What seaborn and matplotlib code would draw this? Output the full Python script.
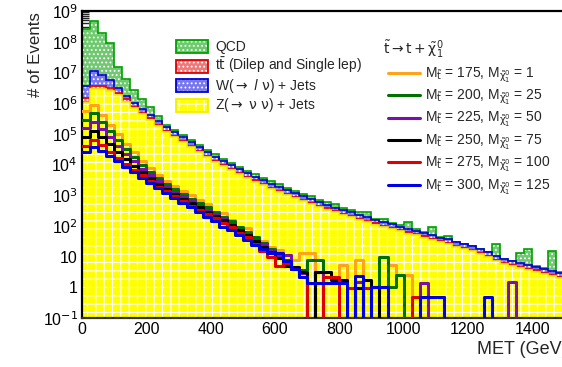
import numpy as np
import pandas as pd
import matplotlib
matplotlib.use("Agg")
import matplotlib.pyplot as plt
from matplotlib.patches import Rectangle
from matplotlib.lines import Line2D
from matplotlib.ticker import MultipleLocator, FixedLocator, FixedFormatter, LogLocator, NullFormatter
import seaborn as sns

# ---------------- data ----------------
bin_edges = np.arange(0, 1525, 25)          # MET bins (GeV), 60 bins
bin_centers = bin_edges[:-1] + 12.5

z_jets = [1.0e6, 2.82e6, 2.82e6, 2.45e6, 1.82e6, 1.12e6, 6.76e5, 4.37e5, 2.88e5, 1.82e5,
          1.15e5, 7.76e4, 5.25e4, 3.63e4, 2.51e4, 1.74e4, 1.23e4, 8.71e3, 6.46e3, 4.79e3,
          3.63e3, 2.75e3, 2.09e3, 1.62e3, 1.26e3, 1.0e3, 794, 631, 513, 417,
          339, 275, 229, 191, 158, 132, 110, 91, 78, 66,
          56, 49, 41.7, 34.7, 28.8, 25.1, 20.9, 17.4, 14.8, 12.3,
          9.8, 7.2, 5.75, 4.9, 4.17, 3.63, 3.24, 2.75, 2.34, 2.04]
ttbar = [4.8e5, 8.1e5, 8.1e5, 5.7e5, 3.7e5, 2.0e5, 8.3e4, 4.2e4, 2.77e4, 1.75e4,
         1.10e4, 7.45e3, 5.04e3, 3.48e3, 2.41e3, 1.67e3, 1.18e3, 836, 620, 460,
         348, 264, 200, 156, 121, 96, 76, 61, 49, 40,
         33, 26, 22, 18, 15, 13, 10.5, 8.7, 7.5, 6.3,
         5.4, 4.7, 4.0, 3.3, 2.8, 2.4, 2.0, 1.7, 1.4, 1.2,
         0.94, 0.7, 0.55, 0.47, 0.4, 0.35, 0.31, 0.26, 0.22, 0.2]
w_jets = [2.07e6, 7.6e6, 4.69e6, 2.6e6, 8.3e5, 3.8e5, 2.41e5, 1.52e5, 1.0e5, 6.34e4,
          4.0e4, 2.7e4, 1.83e4, 1.27e4, 8.75e3, 6.05e3, 4.29e3, 3.04e3, 2.25e3, 1.67e3,
          1.27e3, 959, 728, 564, 439, 349, 277, 220, 179, 145,
          118, 96, 80, 66, 55, 46, 38, 32, 27, 23,
          19.6, 17.1, 14.5, 12.1, 10.0, 8.7, 7.3, 6.0, 5.2, 4.3,
          3.4, 2.5, 2.0, 1.7, 1.45, 1.27, 1.13, 0.96, 0.82, 0.71]
qcd = [2.47e8, 4.68e8, 1.78e8, 8.35e7, 1.18e7, 4.33e6, 1.69e6, 6.9e5, 3.07e5, 1.17e5,
       3.3e4, 2.2e4, 1.5e4, 1.05e4, 7.3e3, 5.0e3, 3.6e3, 2.5e3, 1.9e3, 1.4e3,
       1.05e3, 800, 600, 470, 500, 290, 230, 180, 220, 120,
       98, 130, 66, 55, 46, 97, 15, 34, 10, 8,
       57, 6, 5, 41, 3, 10, 0.8, 0.6, 0.5, 0.4,
       0.3, 15, 0.2, 0.2, 7.5, 12.5, 0.2, 0.2, 12, 0.1]

sig_175_1 = [5.62e5, 8.9e5, 4.2e5, 2.0e5, 9.5e4, 4.8e4, 2.5e4, 1.32e4, 7.6e3, 4.6e3,
             2.95e3, 2.0e3, 1.41e3, 1.0e3, 724, 525, 282, 263, 158, 85,
             85, 35, 32, 20, 16, 11.2, 7.8, 13.2, 13.2, 0,
             0, 0, 5.4, 0, 7.8, 0, 0, 0, 5.4, 2.5,
             2.5, 0, 0, 0, 0, 0, 0, 0, 0, 0,
             0, 0, 0, 0, 0, 0, 0, 0, 0, 0]
sig_200_25 = [2.8e5, 4.8e5, 2.5e5, 1.26e5, 6.3e4, 3.3e4, 1.78e4, 1.0e4, 5.9e3, 3.55e3,
              2.3e3, 1.55e3, 1.07e3, 759, 550, 398, 282, 200, 141, 95,
              63, 42, 28, 17.8, 11.2, 7.9, 4.0, 3.6, 7.8, 7.8,
              0, 0, 0, 0, 0, 0, 0, 10, 1.0, 2.5,
              0, 0, 0, 0, 0, 0, 0, 0, 0, 0,
              0, 0, 0, 0, 0, 0, 0, 0, 0, 0]
sig_225_50 = [1.58e5, 2.45e5, 1.41e5, 7.6e4, 4.0e4, 2.24e4, 1.26e4, 7.4e3, 4.5e3, 2.8e3,
              1.86e3, 1.26e3, 891, 631, 457, 331, 240, 166, 112, 76,
              50, 35, 25, 15.8, 10, 11.2, 4.0, 3.0, 0, 3.2,
              0, 0, 0, 0, 1.5, 0, 0, 0, 0, 0,
              0, 0, 1.4, 0, 0, 0, 0, 0, 0, 0,
              0, 0, 0, 1.45, 0, 0, 0, 0, 0, 0]
sig_250_75 = [7.9e4, 1.26e5, 7.9e4, 4.5e4, 2.5e4, 1.51e4, 9.1e3, 5.6e3, 3.55e3, 2.3e3,
              1.55e3, 1.07e3, 759, 537, 398, 288, 209, 151, 105, 71,
              52, 32, 20, 14.1, 8.9, 5.0, 4.7, 3.2, 0, 3.2,
              3.2, 1.7, 1.7, 0, 0.95, 1.7, 1.0, 0, 0, 0,
              0, 0, 0, 0, 0, 0, 0, 0, 0, 0,
              0, 0, 0, 0, 0, 0, 0, 0, 0, 0]
sig_275_100 = [4.0e4, 6.3e4, 4.2e4, 2.63e4, 1.66e4, 1.05e4, 6.8e3, 4.4e3, 2.9e3, 1.9e3,
               1.32e3, 912, 646, 457, 331, 240, 178, 126, 89, 60,
               42, 25, 15.8, 10, 5.0, 6.2, 4.0, 2.2, 0, 0,
               2.2, 2.2, 0, 0.95, 0, 0.95, 0, 0, 0, 0,
               0, 0.49, 0.49, 0.49, 0.49, 0, 0, 0, 0, 0,
               0, 0, 0, 0, 0, 0, 0, 0, 0, 0]
sig_300_125 = [2.5e4, 3.8e4, 2.8e4, 1.9e4, 1.26e4, 8.3e3, 5.6e3, 3.7e3, 2.5e3, 1.66e3,
               1.15e3, 794, 562, 398, 282, 200, 141, 95, 71, 50,
               35, 24, 17.8, 13.2, 13.2, 7.1, 4.0, 2.2, 1.4, 1.4,
               1.4, 1.4, 1.4, 0, 2.3, 0, 1.0, 1.0, 0, 0,
               0, 0, 0.49, 0.49, 0.49, 0, 0, 0, 0, 0,
               0.49, 0, 0, 0, 0, 0, 0, 0, 0, 0]

bkg_labels = ["QCD", r"t$\bar{t}$ (Dilep and Single lep)",
              r"W($\rightarrow$ $\mathit{l}$ $\nu$) + Jets", r"Z($\rightarrow$ $\nu$ $\nu$) + Jets"]
stop_masses = [175, 200, 225, 250, 275, 300]
lsp_masses = [1, 25, 50, 75, 100, 125]
legend_title = r"$\tilde{t}\rightarrow t + \tilde{\chi}_{1}^{0}$"
y_tick_values = [1e-1, 1, 10, 1e2, 1e3, 1e4, 1e5, 1e6, 1e7, 1e8, 1e9]
y_tick_labels = ["10$^{-1}$", "1", "10", "10$^{2}$", "10$^{3}$", "10$^{4}$",
                 "10$^{5}$", "10$^{6}$", "10$^{7}$", "10$^{8}$", "10$^{9}$"]
x_label = "MET (GeV)"
y_label = "# of Events"

# ---------------- style ----------------
sns.set_theme(style="ticks")
plt.rcParams["font.family"] = ["Liberation Sans", "DejaVu Sans"]
plt.rcParams["mathtext.fontset"] = "custom"
plt.rcParams["mathtext.rm"] = "DejaVu Sans"
plt.rcParams["mathtext.it"] = "DejaVu Sans:italic"
plt.rcParams["mathtext.sf"] = "DejaVu Sans"
plt.rcParams["mathtext.default"] = "rm"
plt.rcParams["hatch.linewidth"] = 0.8

W, H = 562, 367
fig = plt.figure(figsize=(W / 100, H / 100), dpi=100)
fig.patch.set_facecolor("white")

def fx(p):
    return p / W

def fy(p):
    return 1 - p / H

ax_left, ax_right, ax_top, ax_bot = 82, 564.4, 11, 318
ax = fig.add_axes([fx(ax_left), fy(ax_bot), fx(ax_right - ax_left), (ax_bot - ax_top) / H])
ax.set_facecolor("white")

# stack (bottom -> top): Z, ttbar, W, QCD
comp = [np.array(z_jets), np.array(ttbar), np.array(w_jets), np.array(qcd)]
cum = np.cumsum(np.vstack(comp), axis=0)
styles = [  # base, hatch, edge
    ("#ffff00", "++", "#f0f000"),
    ("#f07878", "....", "#e00000"),
    ("#7878ea", "....", "#0000d0"),
    ("#70c870", "....", "#00a000"),
]
floor = 1e-3
for i in [3, 2, 1, 0]:
    base, hatch, edge = styles[i]
    ax.stairs(cum[i], bin_edges, baseline=floor, fill=True, facecolor=base,
              edgecolor="none", linewidth=0, zorder=1 + (3 - i) * 0.1)
    ax.stairs(cum[i], bin_edges, baseline=floor, fill=True, facecolor="none",
              edgecolor="white", linewidth=0, hatch=hatch, zorder=1.01 + (3 - i) * 0.1)
    ax.stairs(cum[i], bin_edges, baseline=None, fill=False, edgecolor=edge,
              linewidth=1.2, zorder=1.02 + (3 - i) * 0.1)

# signals
sig_series = [sig_175_1, sig_200_25, sig_225_50, sig_250_75, sig_275_100, sig_300_125]
sig_colors = ["#ffa31a", "#007000", "#7a0fb0", "#000000", "#e00000", "#0000e6"]
for vals, col in zip(sig_series, sig_colors):
    df = pd.DataFrame({"met": bin_centers, "w": np.array(vals, dtype=float)})
    sns.histplot(data=df, x="met", weights="w", bins=list(bin_edges), element="step",
                 fill=False, color=col, linewidth=2.2, ax=ax, zorder=3)

ax.set_yscale("log")
ax.set_xlim(0, 1500)
ax.set_ylim(0.1, 1e9)
ax.set_xlabel("")
ax.set_ylabel("")

ax.yaxis.set_major_locator(FixedLocator(y_tick_values))
ax.yaxis.set_major_formatter(FixedFormatter(y_tick_labels))
ax.yaxis.set_minor_locator(LogLocator(base=10, subs=np.arange(2, 10), numticks=30))
ax.yaxis.set_minor_formatter(NullFormatter())
ax.xaxis.set_major_locator(MultipleLocator(200))
ax.xaxis.set_minor_locator(MultipleLocator(50))
ax.tick_params(axis="both", which="major", direction="in", length=10, width=1.1,
               labelsize=11.5, pad=3, colors="black")
ax.tick_params(axis="both", which="minor", direction="in", length=5, width=1.0)
ax.tick_params(top=False, right=False, which="both")
for s in ["left", "top", "bottom", "right"]:
    ax.spines[s].set_linewidth(1.6)
    ax.spines[s].set_color("black")
ax.spines["bottom"].set_color("#333333")

fig.text(fx(35), fy(12), y_label, rotation=90, ha="center", va="top", fontsize=12.2)
fig.text(fx(568), fy(350), x_label, ha="right", va="center", fontsize=13)

# background legend (manual)
rows1 = [46.5, 66.0, 85.5, 105.0]
leg_style = [3, 1, 2, 0]
for r, idx, lab in zip(rows1, leg_style, bkg_labels):
    base, hatch, edge = styles[idx]
    x0, y0 = fx(176), fy(r + 6.5)
    w, h = fx(208) - fx(176), fy(r - 6.5) - fy(r + 6.5)
    fig.add_artist(Rectangle((x0, y0), w, h, transform=fig.transFigure,
                             facecolor=base, edgecolor="none", lw=0))
    fig.add_artist(Rectangle((x0, y0), w, h, transform=fig.transFigure,
                             facecolor="none", edgecolor="white", lw=0, hatch=hatch))
    fig.add_artist(Rectangle((x0, y0), w, h, transform=fig.transFigure,
                             facecolor="none", edgecolor=edge, lw=1.3))
    fig.text(fx(215), fy(r + 4.3), lab, ha="left", va="baseline", fontsize=10)

# signal legend (manual)
fig.text(fx(383), fy(53.5), legend_title, ha="left", va="baseline", fontsize=10)
rows2 = [73.0, 95.2, 117.5, 140.0, 162.5, 185.0]
for r, col, ms, ml in zip(rows2, sig_colors, stop_masses, lsp_masses):
    fig.add_artist(Line2D([fx(388), fx(420)], [fy(r), fy(r)], transform=fig.transFigure,
                          color=col, lw=2.2))
    fig.text(fx(425), fy(r + 4.7),
             r"M$_{\tilde{t}}$ = %d, M$_{\tilde{\chi}_{1}^{0}}$ = %d" % (ms, ml),
             ha="left", va="baseline", fontsize=10)

fig.savefig("out.png", dpi=100, facecolor="white")
